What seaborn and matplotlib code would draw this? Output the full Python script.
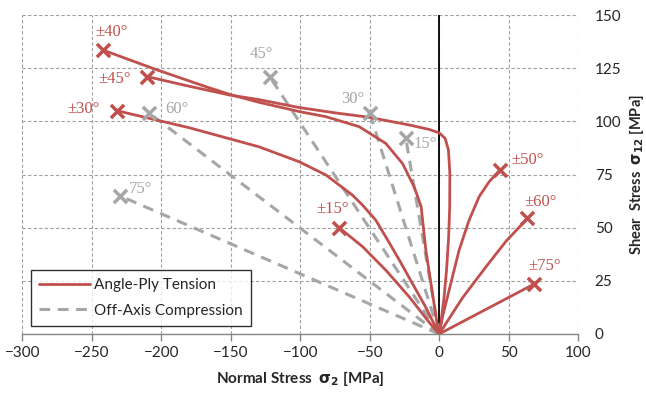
import numpy as np
import pandas as pd
import seaborn as sns
import matplotlib.pyplot as plt
from matplotlib.lines import Line2D

# Angle-ply tension curves (sigma_2, sigma_12)
ply_15_x = [0, -7.2, -21.6, -38.4, -55, -72]
ply_15_y = [0, 5.5, 17.5, 30, 41, 50]
ply_30_x = [0, -10, -21.6, -28, -36, -45.6, -55, -62.4, -81.6, -100.8, -129.6, -180, -232]
ply_30_y = [0, 13, 26.5, 34, 43, 53.5, 60.5, 65.3, 74.8, 81, 88, 97, 105]
ply_40_x = [0, -1.2, -4.8, -9.6, -13, -18, -26.4, -38.4, -57.6, -81.6, -100,
            -130, -150, -168, -204, -242]
ply_40_y = [0, 3.4, 19.1, 39.5, 60, 69.2, 80.2, 89.6, 97.5, 102.2, 104.5,
            109, 112.5, 116.3, 124.4, 133.5]
ply_45_x = [0, 1.6, 3.5, 5.3, 6.8, 7.6, 7.7, 6.7, 4.3, 0, -7.2, -21.6, -50.4,
            -75, -100.8, -129.6, -151, -180, -210]
ply_45_y = [0, 7, 17, 30, 45, 60, 75.5, 86.5, 92, 94.6, 96.2, 98.3, 101.9,
            104, 106.5, 110.2, 112.4, 116.5, 121]
ply_50_x = [0, 2.4, 7.2, 14.4, 21.6, 28.8, 36, 43.7]
ply_50_y = [0, 8, 20.7, 39.5, 53.6, 64.6, 71.6, 77.1]
ply_60_x = [0, 16.8, 33.6, 48, 63.6]
ply_60_y = [0, 17, 31.5, 43.5, 54.4]
ply_75_x = [0, 68.4]
ply_75_y = [0, 23.5]

# Off-axis compression end points (straight lines from origin)
off_angles = ['15°', '30°', '45°', '60°', '75°']
off_x = [-24, -50, -122, -209, -230]
off_y = [92, 104, 121, 104, 65]

ply_curves = {
    '±15°': (ply_15_x, ply_15_y),
    '±30°': (ply_30_x, ply_30_y),
    '±40°': (ply_40_x, ply_40_y),
    '±45°': (ply_45_x, ply_45_y),
    '±50°': (ply_50_x, ply_50_y),
    '±60°': (ply_60_x, ply_60_y),
    '±75°': (ply_75_x, ply_75_y),
}

# label positions for the angle annotations
ply_label_pos = {
    '±15°': (-77, 59),
    '±30°': (-256, 106),
    '±40°': (-236, 142),
    '±45°': (-234, 120),
    '±50°': (64, 82),
    '±60°': (73, 62),
    '±75°': (76, 32),
}
off_label_pos = {
    '15°': (-10, 89.5),
    '30°': (-62, 110.5),
    '45°': (-128, 131.5),
    '60°': (-189, 106),
    '75°': (-215, 68),
}

red = '#C0504D'
grey = '#A6A6A6'

sns.set_style('white')
plt.rcParams['font.family'] = ['Lato', 'DejaVu Sans']

fig = plt.figure(figsize=(6.46, 3.97), dpi=100)
ax = fig.add_axes([0.0348, 0.1587, 0.86, 0.8035])

ax.axvline(0, color='black', lw=1.3, zorder=1)

# off-axis compression
for ang, xe, ye in zip(off_angles, off_x, off_y):
    d = pd.DataFrame({'x': [0, xe], 'y': [0, ye]})
    sns.lineplot(data=d, x='x', y='y', sort=False, estimator=None, color=grey,
                 lw=2.2, linestyle=(0, (3.5, 2.5)), ax=ax, zorder=2)
off_df = pd.DataFrame({'x': off_x, 'y': off_y})
sns.scatterplot(data=off_df, x='x', y='y', marker='x', s=90, color=grey,
                linewidth=2.5, ax=ax, zorder=4)

# angle-ply tension
ends_x, ends_y = [], []
for name, (cx, cy) in ply_curves.items():
    d = pd.DataFrame({'x': cx, 'y': cy})
    sns.lineplot(data=d, x='x', y='y', sort=False, estimator=None, color=red,
                 lw=2.0, ax=ax, zorder=3)
    ends_x.append(cx[-1])
    ends_y.append(cy[-1])
for line in ax.lines[1:]:
    line.set_solid_joinstyle('round')
ply_df = pd.DataFrame({'x': ends_x, 'y': ends_y})
sns.scatterplot(data=ply_df, x='x', y='y', marker='x', s=90, color=red,
                linewidth=2.5, ax=ax, zorder=5)

for name, (lx, ly) in ply_label_pos.items():
    ax.text(lx, ly, name, color=red, fontsize=12, ha='center', va='center',
            family=['Liberation Serif', 'DejaVu Serif'])
for name, (lx, ly) in off_label_pos.items():
    ax.text(lx, ly, name, color=grey, fontsize=12, ha='center', va='center',
            family=['Liberation Serif', 'DejaVu Serif'])

ax.set_xlim(-300, 100)
ax.set_ylim(0, 150)
ax.set_xticks(np.arange(-300, 101, 50))
ax.set_yticks(np.arange(0, 151, 25))
ax.grid(True, color='#A0A0A0', linestyle=(0, (3, 2)), lw=0.8)
ax.set_axisbelow(True)
for s in ['top', 'left', 'right']:
    ax.spines[s].set_visible(False)
ax.spines['bottom'].set_color('#868686')
ax.spines['bottom'].set_linewidth(1.0)

ax.yaxis.tick_right()
ax.yaxis.set_label_position('right')
ax.tick_params(axis='y', length=0, pad=12, labelsize=11)
ax.tick_params(axis='x', length=5, width=1, color='#868686', direction='out',
               pad=4, labelsize=11, bottom=True)

ax.set_xlabel('Normal Stress  $\\mathbf{\\sigma_2}$ [MPa]', fontsize=11,
              fontweight='bold', labelpad=6)
ax.set_ylabel('Shear  Stress  $\\mathbf{\\sigma_{12}}$ [MPa]', fontsize=10.5,
              fontweight='bold', labelpad=4)

handles = [Line2D([], [], color=red, lw=2.0),
           Line2D([], [], color=grey, lw=2.2, linestyle=(0, (3.5, 2.5)))]
leg = ax.legend(handles, ['Angle-Ply Tension', 'Off-Axis Compression'],
                loc='lower left', bbox_to_anchor=(0.015, 0.025), fontsize=11,
                frameon=True, fancybox=False, edgecolor='black',
                borderaxespad=0, handlelength=3.3, borderpad=0.55,
                labelspacing=0.75, handletextpad=0.3)
leg.get_frame().set_linewidth(1.0)
leg.set_zorder(10)

fig.savefig('out.png', dpi=100)
